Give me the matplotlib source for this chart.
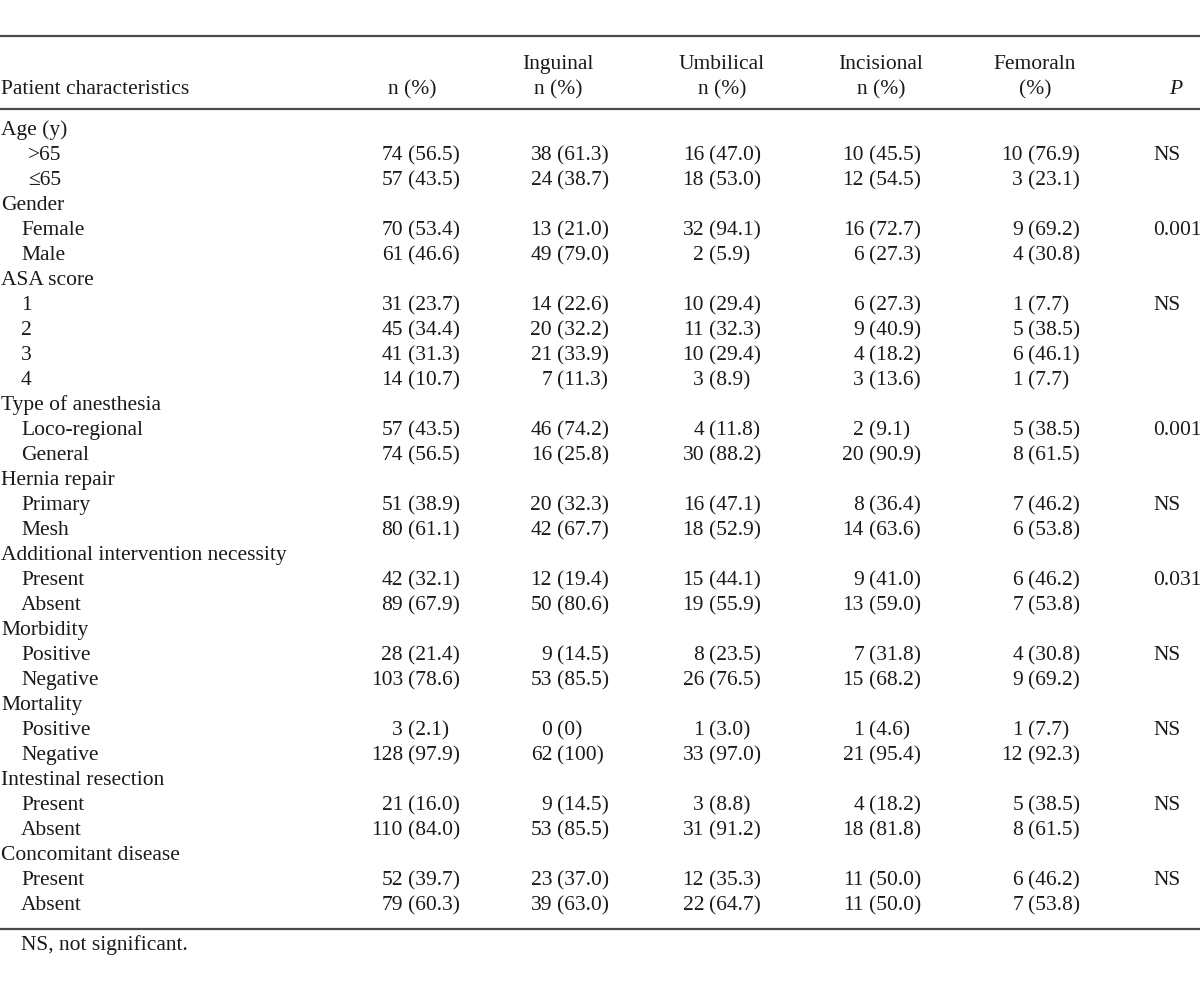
import matplotlib.pyplot as plt

# table data
groups = ["Age (y)", "Gender", "ASA score", "Type of anesthesia", "Hernia repair",
          "Additional intervention necessity", "Morbidity", "Mortality",
          "Intestinal resection", "Concomitant disease"]
sub_labels = [[">65", "\u226465"], ["Female", "Male"], ["1", "2", "3", "4"],
              ["Loco-regional", "General"], ["Primary", "Mesh"], ["Present", "Absent"],
              ["Positive", "Negative"], ["Positive", "Negative"], ["Present", "Absent"],
              ["Present", "Absent"]]
p_values = ["NS", "0.001", "NS", "0.001", "NS", "0.031", "NS", "NS", "NS", "NS"]

total = ["74 (56.5)", "57 (43.5)", "70 (53.4)", "61 (46.6)", "31 (23.7)", "45 (34.4)",
         "41 (31.3)", "14 (10.7)", "57 (43.5)", "74 (56.5)", "51 (38.9)", "80 (61.1)",
         "42 (32.1)", "89 (67.9)", "28 (21.4)", "103 (78.6)", "3 (2.1)", "128 (97.9)",
         "21 (16.0)", "110 (84.0)", "52 (39.7)", "79 (60.3)"]
inguinal = ["38 (61.3)", "24 (38.7)", "13 (21.0)", "49 (79.0)", "14 (22.6)", "20 (32.2)",
            "21 (33.9)", "7 (11.3)", "46 (74.2)", "16 (25.8)", "20 (32.3)", "42 (67.7)",
            "12 (19.4)", "50 (80.6)", "9 (14.5)", "53 (85.5)", "0 (0)", "62 (100)",
            "9 (14.5)", "53 (85.5)", "23 (37.0)", "39 (63.0)"]
umbilical = ["16 (47.0)", "18 (53.0)", "32 (94.1)", "2 (5.9)", "10 (29.4)", "11 (32.3)",
             "10 (29.4)", "3 (8.9)", "4 (11.8)", "30 (88.2)", "16 (47.1)", "18 (52.9)",
             "15 (44.1)", "19 (55.9)", "8 (23.5)", "26 (76.5)", "1 (3.0)", "33 (97.0)",
             "3 (8.8)", "31 (91.2)", "12 (35.3)", "22 (64.7)"]
incisional = ["10 (45.5)", "12 (54.5)", "16 (72.7)", "6 (27.3)", "6 (27.3)", "9 (40.9)",
              "4 (18.2)", "3 (13.6)", "2 (9.1)", "20 (90.9)", "8 (36.4)", "14 (63.6)",
              "9 (41.0)", "13 (59.0)", "7 (31.8)", "15 (68.2)", "1 (4.6)", "21 (95.4)",
              "4 (18.2)", "18 (81.8)", "11 (50.0)", "11 (50.0)"]
femoral = ["10 (76.9)", "3 (23.1)", "9 (69.2)", "4 (30.8)", "1 (7.7)", "5 (38.5)",
           "6 (46.1)", "1 (7.7)", "5 (38.5)", "8 (61.5)", "7 (46.2)", "6 (53.8)",
           "6 (46.2)", "7 (53.8)", "4 (30.8)", "9 (69.2)", "1 (7.7)", "12 (92.3)",
           "5 (38.5)", "8 (61.5)", "6 (46.2)", "7 (53.8)"]

col_heads = [("", "n (%)"), ("Inguinal", "n (%)"), ("Umbilical", "n (%)"),
             ("Incisional", "n (%)"), ("Femoraln", "(%)")]
footnote = "NS, not significant."

# layout (pixels)
W, H = 1200, 983
paren_x = [408, 557, 709, 869, 1028]
head_x = [412, 558, 722, 881, 1035]
p_x = 1153
row0, dy = 129, 25
fs = 15.5
txt = '#1a1a1a'
line_c = '#4a4a4a'

plt.rcParams['font.family'] = ['Liberation Serif', 'DejaVu Serif']

fig = plt.figure(figsize=(W / 100, H / 100), dpi=100)
ax = fig.add_axes([0, 0, 1, 1])
ax.set_xlim(0, W)
ax.set_ylim(H, 0)
ax.axis('off')

def put(x, y, s, ha='left', **kw):
    ax.text(x, y + 6, s, ha=ha, va='baseline', fontsize=fs, color=txt, **kw)

# rules
for y in (36, 109, 929):
    ax.plot([0, W], [y, y], color=line_c, lw=1.6, solid_capstyle='butt')

# header
put(1, 88, "Patient characteristics")
for (top, bot), x in zip(col_heads, head_x):
    if top:
        put(x, 63, top, ha='center')
    put(x, 88, bot, ha='center')
put(1176, 88, "P", ha='center', style='italic')

cols = [total, inguinal, umbilical, incisional, femoral]
r = 0  # row counter
k = 0  # sub-row counter
for g, subs, p in zip(groups, sub_labels, p_values):
    y = row0 + r * dy
    put(1, y, g)
    r += 1
    for j, lab in enumerate(subs):
        y = row0 + r * dy
        ind = 28 if lab[0] in ">\u2264" else 21
        put(ind, y, lab)
        for col, px in zip(cols, paren_x):
            cnt, pct = col[k].split(" ", 1)
            put(px - 5, y, cnt, ha='right')
            put(px, y, pct)
        if j == 0:
            put(p_x, y, p)
        r += 1
        k += 1

put(21, 944, footnote)

fig.savefig('out.png', dpi=100)
